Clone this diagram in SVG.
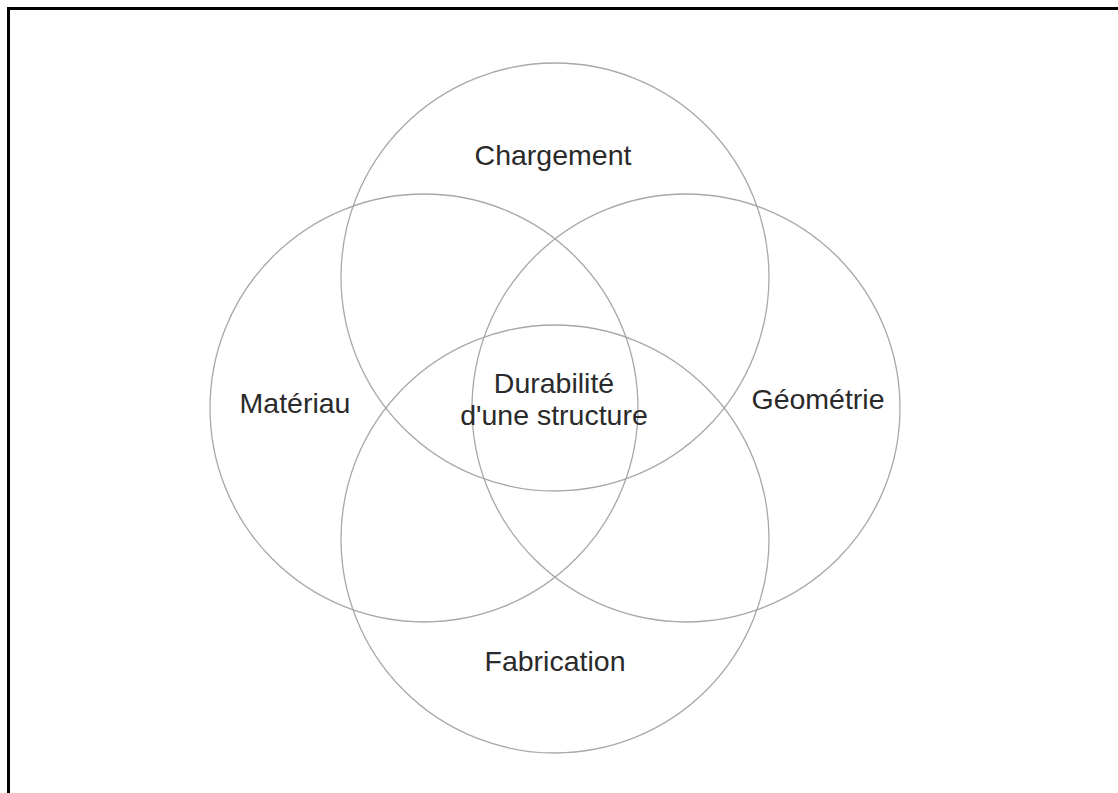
<svg xmlns="http://www.w3.org/2000/svg" width="1118" height="793" viewBox="0 0 1118 793">
  <style>
    .ring { fill: none; stroke: #a8a8a8; stroke-width: 1.3; }
    .label { font-family: "Liberation Sans", Arial, sans-serif; font-size: 28.5px; fill: #2a2a2a; text-anchor: middle; }
  </style>
  <rect x="0" y="0" width="1118" height="793" fill="#ffffff"/>
  <!-- frame, open to the right and bottom -->
  <rect x="8.5" y="8.5" width="1130" height="800" fill="none" stroke="#000000" stroke-width="3"/>

  <g id="connectors"></g>

  <g id="chargement">
    <circle class="ring" cx="555" cy="277" r="214"/>
    <text class="label" x="553" y="165">Chargement</text>
  </g>
  <g id="materiau">
    <circle class="ring" cx="424" cy="408" r="214"/>
    <text class="label" x="295" y="413">Matériau</text>
  </g>
  <g id="geometrie">
    <circle class="ring" cx="686" cy="408" r="214"/>
    <text class="label" x="818" y="409">Géométrie</text>
  </g>
  <g id="fabrication">
    <circle class="ring" cx="555" cy="539" r="214"/>
    <text class="label" x="555" y="671">Fabrication</text>
  </g>
  <g id="durabilite">
    <text class="label" x="554" y="393">Durabilité</text>
    <text class="label" x="554" y="425">d'une structure</text>
  </g>
</svg>
